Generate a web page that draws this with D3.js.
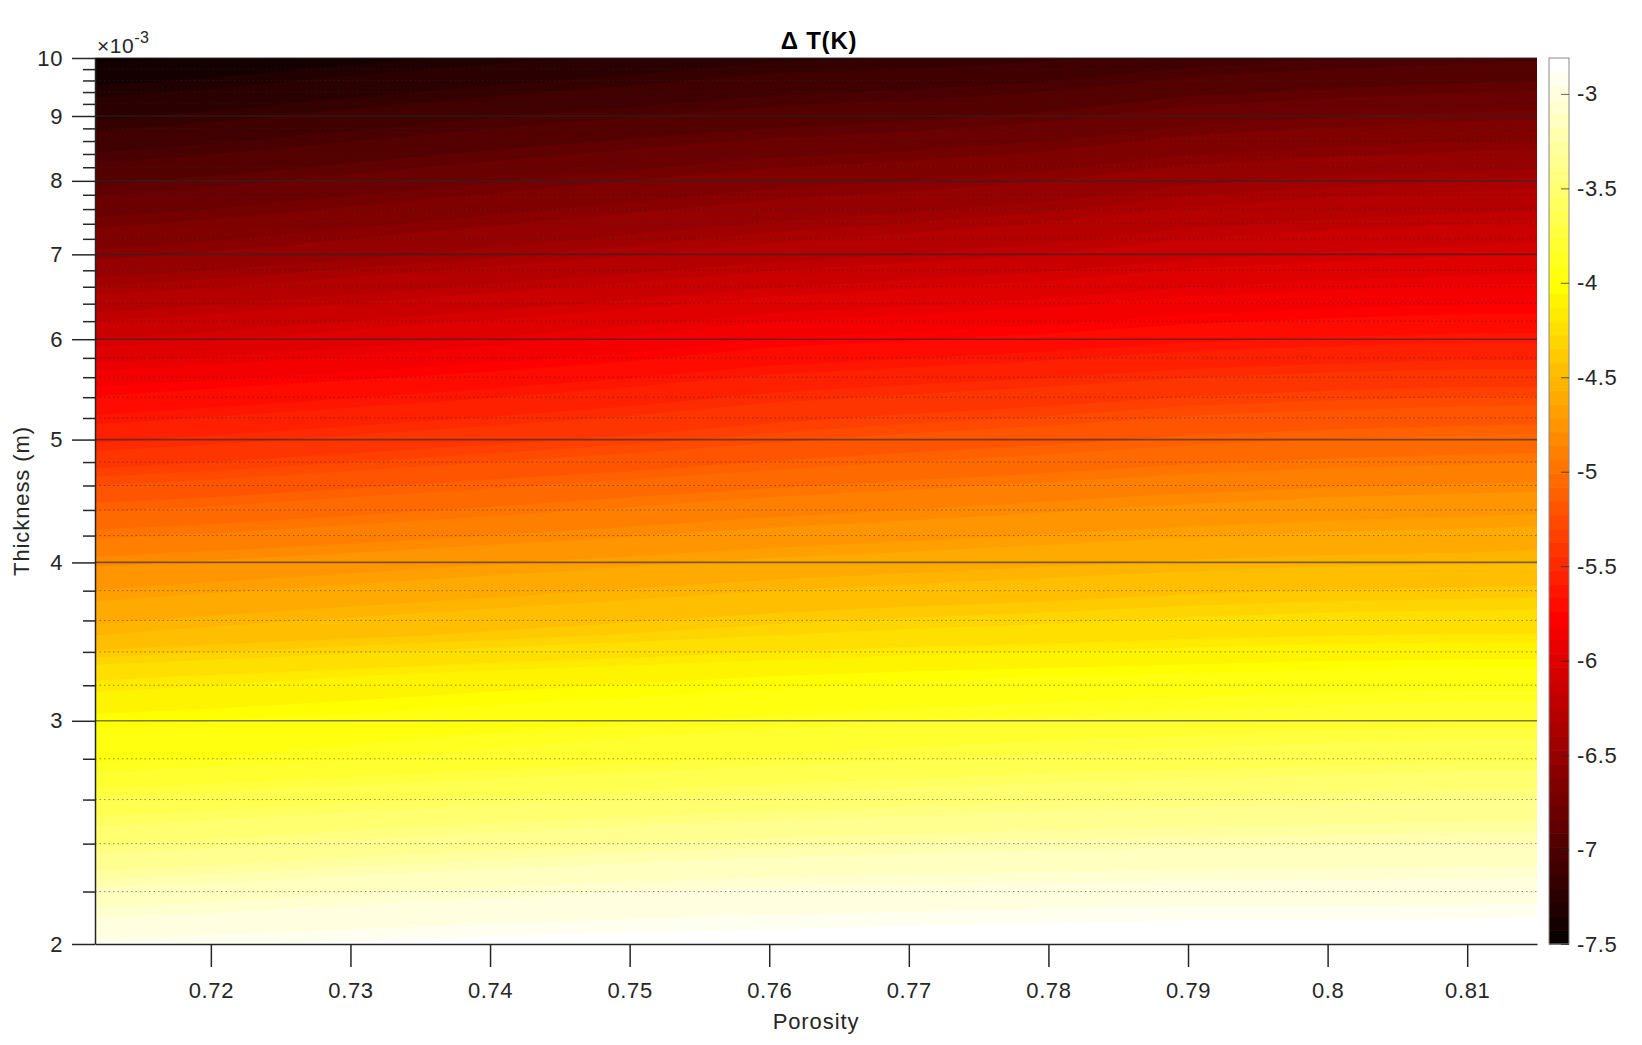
<!DOCTYPE html>
<html><head><meta charset="utf-8">
<script src="https://cdn.jsdelivr.net/npm/d3@7"></script>
<style>
body{margin:0;background:#fff}
text{font-family:"Liberation Sans",Arial,Helvetica,sans-serif;fill:#262626}
</style>
</head><body>
<svg id="chart" width="1642" height="1045"></svg>
<script>
// ---------- data ----------
const porosity = [0.7117, 0.72, 0.73, 0.74, 0.75, 0.76, 0.77, 0.78, 0.79, 0.80, 0.81, 0.815];
const thickness = [0.002, 0.0022, 0.0024, 0.0026, 0.0028, 0.003, 0.00325, 0.0035, 0.004, 0.0045, 0.005, 0.0055, 0.006, 0.007, 0.008, 0.009, 0.010];
// deltaT[row = thickness index][col = porosity index], K
const deltaT = [
  [-2.93, -2.91, -2.89, -2.87, -2.86, -2.85, -2.84, -2.83, -2.82, -2.82, -2.81, -2.81],
  [-3.18, -3.15, -3.11, -3.08, -3.05, -3.03, -3.02, -3.01, -3.00, -3.00, -3.00, -2.99],
  [-3.46, -3.43, -3.38, -3.34, -3.30, -3.27, -3.25, -3.23, -3.22, -3.21, -3.20, -3.20],
  [-3.69, -3.66, -3.62, -3.58, -3.55, -3.52, -3.49, -3.46, -3.44, -3.42, -3.40, -3.40],
  [-3.92, -3.90, -3.86, -3.82, -3.78, -3.74, -3.71, -3.68, -3.66, -3.64, -3.62, -3.62],
  [-4.02, -4.00, -3.97, -3.94, -3.91, -3.88, -3.85, -3.83, -3.81, -3.79, -3.78, -3.78],
  [-4.22, -4.19, -4.15, -4.11, -4.08, -4.05, -4.02, -4.00, -3.98, -3.96, -3.95, -3.95],
  [-4.50, -4.46, -4.42, -4.38, -4.34, -4.30, -4.27, -4.25, -4.22, -4.20, -4.19, -4.19],
  [-4.82, -4.79, -4.75, -4.71, -4.67, -4.63, -4.60, -4.57, -4.54, -4.52, -4.51, -4.50],
  [-5.18, -5.15, -5.10, -5.05, -5.00, -4.95, -4.91, -4.87, -4.83, -4.80, -4.78, -4.77],
  [-5.52, -5.48, -5.43, -5.38, -5.33, -5.27, -5.22, -5.18, -5.13, -5.10, -5.08, -5.07],
  [-5.80, -5.76, -5.71, -5.66, -5.60, -5.53, -5.49, -5.45, -5.40, -5.37, -5.35, -5.35],
  [-6.10, -6.06, -6.00, -5.94, -5.88, -5.80, -5.76, -5.72, -5.67, -5.64, -5.62, -5.62],
  [-6.58, -6.54, -6.48, -6.42, -6.36, -6.30, -6.25, -6.20, -6.13, -6.09, -6.06, -6.05],
  [-6.92, -6.88, -6.82, -6.76, -6.70, -6.64, -6.60, -6.55, -6.47, -6.43, -6.40, -6.39],
  [-7.22, -7.18, -7.12, -7.06, -7.01, -6.96, -6.93, -6.88, -6.80, -6.76, -6.73, -6.72],
  [-7.47, -7.44, -7.38, -7.33, -7.28, -7.22, -7.20, -7.17, -7.10, -7.06, -7.03, -7.02]
];
const colorLimits = [-7.5, -2.81];
const xTicks = [0.72, 0.73, 0.74, 0.75, 0.76, 0.77, 0.78, 0.79, 0.80, 0.81];
const xTickLabels = ["0.72", "0.73", "0.74", "0.75", "0.76", "0.77", "0.78", "0.79", "0.8", "0.81"];
const yTicks = [0.002, 0.003, 0.004, 0.005, 0.006, 0.007, 0.008, 0.009, 0.010];
const yTickLabels = ["2", "3", "4", "5", "6", "7", "8", "9", "10"];
const cbTicks = [-7.5, -7, -6.5, -6, -5.5, -5, -4.5, -4, -3.5, -3];
const cbTickLabels = ["-7.5", "-7", "-6.5", "-6", "-5.5", "-5", "-4.5", "-4", "-3.5", "-3"];
const titleText = "\u0394 T(K)";
const xLabel = "Porosity";
const yLabel = "Thickness (m)";

// ---------- layout ----------
const P = {left: 95, top: 58, right: 1537, bottom: 944};
const CB = {left: 1549, right: 1569};
const svg = d3.select("#chart");
const FONT = '"Liberation Sans",Arial,sans-serif';

const x = d3.scaleLinear().domain([porosity[0], porosity[porosity.length - 1]]).range([P.left, P.right]);
const y = d3.scaleLog().domain([thickness[0], thickness[thickness.length - 1]]).range([P.bottom, P.top]);

// MATLAB hot(64)
function hot(v) {
  const n = 64;
  let t = (v - colorLimits[0]) / (colorLimits[1] - colorLimits[0]);
  let k = Math.max(0, Math.min(n - 1, Math.floor(t * n))) + 1;
  const r = Math.min(1, k / 24);
  const g = Math.max(0, Math.min(1, (k - 24) / 24));
  const b = Math.max(0, Math.min(1, (k - 48) / 16));
  return d3.rgb(r * 255, g * 255, b * 255).formatHex();
}

// ---------- filled contours ----------
const nx = porosity.length, ny = thickness.length;
const levels = d3.range(colorLimits[0], colorLimits[1], 0.05);
const contours = d3.contours().size([nx, ny]).thresholds(levels)(deltaT.flat());

function gx(u) {
  const c = Math.max(0, Math.min(nx - 1, u - 0.5));
  const i = Math.min(Math.floor(c), nx - 2), t = c - i;
  return x(porosity[i]) + t * (x(porosity[i + 1]) - x(porosity[i]));
}
function gy(v) {
  const c = Math.max(0, Math.min(ny - 1, v - 0.5));
  const i = Math.min(Math.floor(c), ny - 2), t = c - i;
  return y(thickness[i]) + t * (y(thickness[i + 1]) - y(thickness[i]));
}
const proj = d3.geoTransform({point(a, b) { this.stream.point(gx(a), gy(b)); }});
const path = d3.geoPath(proj);

svg.append("clipPath").attr("id", "clip").append("rect")
  .attr("x", P.left).attr("y", P.top).attr("width", P.right - P.left).attr("height", P.bottom - P.top);

const gMap = svg.append("g").attr("clip-path", "url(#clip)");
gMap.selectAll("path").data(contours).join("path")
  .attr("d", path)
  .attr("fill", d => hot(d.value + 0.025))
  .attr("stroke", d => hot(d.value + 0.025))
  .attr("stroke-width", 0.6);

// ---------- grid ----------
const yMinor = [];
for (let a = 2; a < 10; a++) for (let s = 1; s <= 4; s++) yMinor.push((a + s * 0.2) / 1000);

const gGrid = svg.append("g");
gGrid.selectAll("line.minor").data(yMinor).join("line").attr("class", "minor")
  .attr("x1", P.left).attr("x2", P.right)
  .attr("y1", d => y(d)).attr("y2", d => y(d))
  .attr("stroke", "#262626").attr("stroke-opacity", 0.5)
  .attr("stroke-width", 1).attr("stroke-dasharray", "1.5,3");
gGrid.selectAll("line.major").data(yTicks.slice(1)).join("line").attr("class", "major")
  .attr("x1", P.left).attr("x2", P.right)
  .attr("y1", d => y(d)).attr("y2", d => y(d))
  .attr("stroke", "#262626").attr("stroke-opacity", 0.6)
  .attr("stroke-width", 1.6);

// ---------- axes ----------
const fontSize = 22;
function styleText(sel) {
  sel.attr("font-size", fontSize).style("font-family", FONT).attr("fill", "#262626").style("letter-spacing", "0.6px");
}
const yAxisMinor = svg.append("g").attr("transform", `translate(${P.left},0)`)
  .call(d3.axisLeft(y).tickValues(yMinor).tickSize(12).tickSizeOuter(0).tickFormat(""));
yAxisMinor.select(".domain").remove();
yAxisMinor.selectAll(".tick line").attr("stroke", "#262626").attr("stroke-width", 1.5);

const yAxis = svg.append("g").attr("transform", `translate(${P.left},0)`)
  .call(d3.axisLeft(y).tickValues(yTicks).tickSize(23).tickSizeOuter(0).tickPadding(9)
    .tickFormat((d, i) => yTickLabels[i]));
yAxis.select(".domain").attr("stroke", "#262626").attr("stroke-width", 1.5);
yAxis.selectAll(".tick line").attr("stroke", "#262626").attr("stroke-width", 1.5);
styleText(yAxis.selectAll("text"));

const xAxis = svg.append("g").attr("transform", `translate(0,${P.bottom})`)
  .call(d3.axisBottom(x).tickValues(xTicks).tickSize(23).tickSizeOuter(0).tickPadding(15)
    .tickFormat((d, i) => xTickLabels[i]));
xAxis.select(".domain").attr("stroke", "#262626").attr("stroke-width", 1.5);
xAxis.selectAll(".tick line").attr("stroke", "#262626").attr("stroke-width", 1.5);
styleText(xAxis.selectAll("text"));

// exponent label
const expo = svg.append("text").attr("x", P.left + 2).attr("y", 53).attr("font-size", 21).style("letter-spacing", "0.5px");
expo.append("tspan").text("\u00d710");
expo.append("tspan").attr("font-size", 16).attr("dy", -10).text("-3");

// title & labels
svg.append("text").attr("x", 819).attr("y", 49).attr("text-anchor", "middle")
  .attr("font-size", 24).attr("font-weight", "bold").style("fill", "#000").style("letter-spacing", "0.8px").text(titleText);
svg.append("text").attr("x", (P.left + P.right) / 2).attr("y", 1029).attr("text-anchor", "middle")
  .attr("font-size", fontSize).style("letter-spacing", "0.9px").text(xLabel);
svg.append("text").attr("transform", `translate(29,${(P.top + P.bottom) / 2}) rotate(-90)`)
  .attr("text-anchor", "middle").attr("font-size", fontSize).style("letter-spacing", "0.9px").text(yLabel);

// ---------- colorbar ----------
const cb = d3.scaleLinear().domain(colorLimits).range([P.bottom, P.top]);
const nC = 64;
const cbSteps = d3.range(nC).map(i => colorLimits[0] + (colorLimits[1] - colorLimits[0]) * i / nC);
const cstep = (colorLimits[1] - colorLimits[0]) / nC;
svg.append("g").selectAll("rect").data(cbSteps).join("rect")
  .attr("x", CB.left).attr("width", CB.right - CB.left)
  .attr("y", d => cb(d + cstep)).attr("height", d => cb(d) - cb(d + cstep) + 0.6)
  .attr("fill", d => hot(d + cstep / 2));
svg.append("rect").attr("x", CB.left).attr("y", P.top).attr("width", CB.right - CB.left)
  .attr("height", P.bottom - P.top).attr("fill", "none").attr("stroke", "#8a8a8a").attr("stroke-width", 1);
const cbAxis = svg.append("g").attr("transform", `translate(${CB.right},0)`)
  .call(d3.axisRight(cb).tickValues(cbTicks).tickSize(-8).tickSizeOuter(0).tickPadding(8)
    .tickFormat((d, i) => cbTickLabels[i]));
cbAxis.select(".domain").remove();
cbAxis.selectAll(".tick line").attr("stroke", "#262626").attr("stroke-opacity", 0.7).attr("stroke-width", 1);
styleText(cbAxis.selectAll("text"));
</script>
</body></html>
